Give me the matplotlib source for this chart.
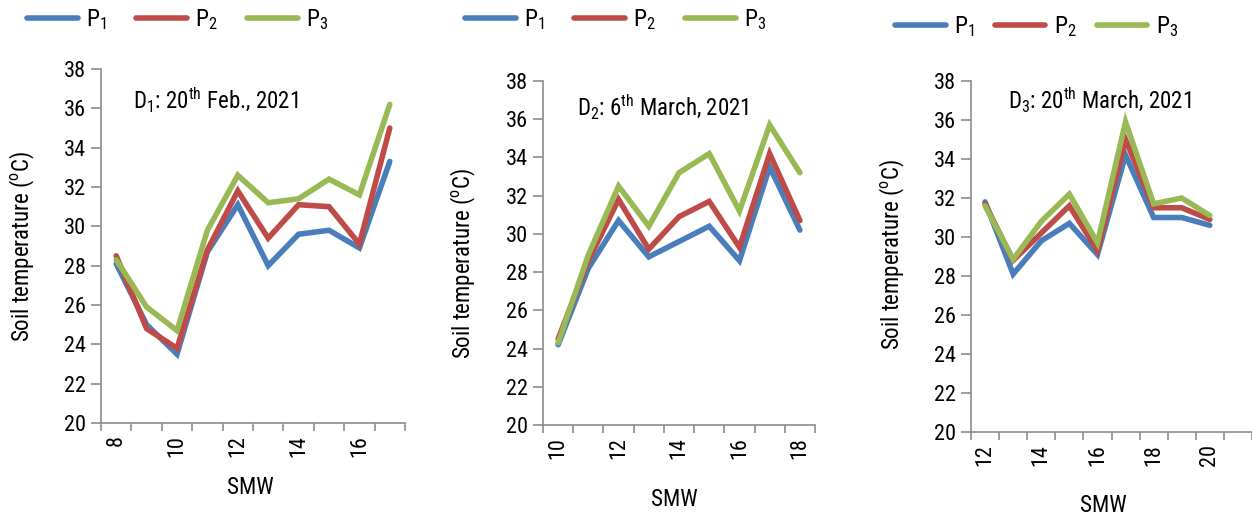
import matplotlib
matplotlib.use("Agg")
import matplotlib.pyplot as plt
from matplotlib.ticker import FixedLocator

plt.rcParams['font.family'] = ['Roboto Condensed', 'Liberation Sans', 'DejaVu Sans']
plt.rcParams['mathtext.default'] = 'regular'

# ---------------- data ----------------
smw1 = [8, 9, 10, 11, 12, 13, 14, 15, 16, 17]
p1_d1 = [28.1, 25.0, 23.5, 28.7, 31.1, 28.0, 29.6, 29.8, 28.9, 33.3]
p2_d1 = [28.5, 24.8, 23.8, 28.8, 31.8, 29.4, 31.1, 31.0, 29.1, 35.0]
p3_d1 = [28.3, 25.9, 24.7, 29.8, 32.6, 31.2, 31.4, 32.4, 31.6, 36.2]

smw2 = [10, 11, 12, 13, 14, 15, 16, 17, 18]
p1_d2 = [24.2, 28.2, 30.7, 28.8, 29.6, 30.4, 28.6, 33.5, 30.2]
p2_d2 = [24.5, 28.6, 31.8, 29.2, 30.9, 31.7, 29.3, 34.2, 30.7]
p3_d2 = [24.3, 28.9, 32.5, 30.4, 33.2, 34.2, 31.2, 35.7, 33.2]

smw3 = [12, 13, 14, 15, 16, 17, 18, 19, 20]
p1_d3 = [31.8, 28.1, 29.8, 30.7, 29.1, 34.2, 31.0, 31.0, 30.6]
p2_d3 = [31.7, 28.8, 30.2, 31.6, 29.3, 35.0, 31.5, 31.5, 30.9]
p3_d3 = [31.6, 28.85, 30.8, 32.2, 29.7, 35.9, 31.7, 32.0, 31.1]

series_names = ['$P_1$', '$P_2$', '$P_3$']
colors = ['#4a7ebb', '#be4b48', '#98b954']
yticks = [20, 22, 24, 26, 28, 30, 32, 34, 36, 38]
titles = ['$D_1$: 20$^{th}$ Feb., 2021',
          '$D_2$: 6$^{th}$ March, 2021',
          '$D_3$: 20$^{th}$ March, 2021']

W, H = 1252, 518
fig = plt.figure(figsize=(W / 100, H / 100), dpi=100)

# panel pixel layouts: left, right, top, bottom
layouts = [(101, 405, 69, 423), (543, 815, 81, 425), (971, 1252, 81, 432)]
ncats = [10, 9, 10]   # number of category slots on the axis
title_pos = [(216, 100), (663, 107), (1100, 100)]
ylab_pos = [(22, 246), (463, 263), (892, 254)]
xlab_pos = [(250, 488), (674, 500), (1103, 505)]
leg_pos = [(27, 20, 1.25), (465, 20, 1.25), (895, 27, 0.85)]

data = [(smw1, [p1_d1, p2_d1, p3_d1]),
        (smw2, [p1_d2, p2_d2, p3_d2]),
        (smw3, [p1_d3, p2_d3, p3_d3])]

axis_color = '#8c8c8c'

for i, (cats, series) in enumerate(data):
    l, r, t, b = layouts[i]
    ax = fig.add_axes([l / W, 1 - b / H, (r - l) / W, (b - t) / H])
    for vals, name, c in zip(series, series_names, colors):
        ax.plot(cats, vals, color=c, lw=4, label=name, solid_capstyle='round',
                solid_joinstyle='miter')
    x0 = cats[0] - 0.5
    x1 = x0 + ncats[i]
    ax.set_xlim(x0, x1)
    ax.set_ylim(20, 38)
    ax.set_yticks(yticks)
    ax.set_yticklabels([str(v) for v in yticks])
    even = [c for c in cats if c % 2 == 0]
    ax.set_xticks(even)
    ax.set_xticklabels([str(c) for c in even], rotation=90)
    bounds = [x0 + k for k in range(ncats[i] + 1)]
    ax.xaxis.set_minor_locator(FixedLocator(bounds))
    ax.tick_params(axis='x', which='major', length=0, pad=9, labelsize=16)
    ax.tick_params(axis='x', which='minor', length=6, width=1.2, color=axis_color)
    ax.tick_params(axis='y', length=7, width=1.2, color=axis_color, labelsize=16, pad=4)
    for s in ['top', 'right']:
        ax.spines[s].set_visible(False)
    for s in ['left', 'bottom']:
        ax.spines[s].set_color(axis_color)
        ax.spines[s].set_linewidth(1.2)
    ax.set_facecolor('none')

    tx, ty = title_pos[i]
    fig.text(tx / W, 1 - ty / H, titles[i], ha='center', va='center', fontsize=16.5)
    yx, yy = ylab_pos[i]
    fig.text(yx / W, 1 - yy / H, 'Soil temperature ($^{o}$C)', rotation=90,
             ha='center', va='center', fontsize=16.5)
    xx, xy = xlab_pos[i]
    fig.text(xx / W, 1 - xy / H, 'SMW', ha='center', va='center', fontsize=16.5)

    lx, ly, cs = leg_pos[i]
    ax.legend(loc='center left', bbox_to_anchor=(lx / W, 1 - ly / H),
              bbox_transform=fig.transFigure, ncol=3, frameon=False,
              borderaxespad=0, borderpad=0, handlelength=2.15, handletextpad=0.35,
              columnspacing=cs, fontsize=17)

fig.savefig('out.png', dpi=100)
